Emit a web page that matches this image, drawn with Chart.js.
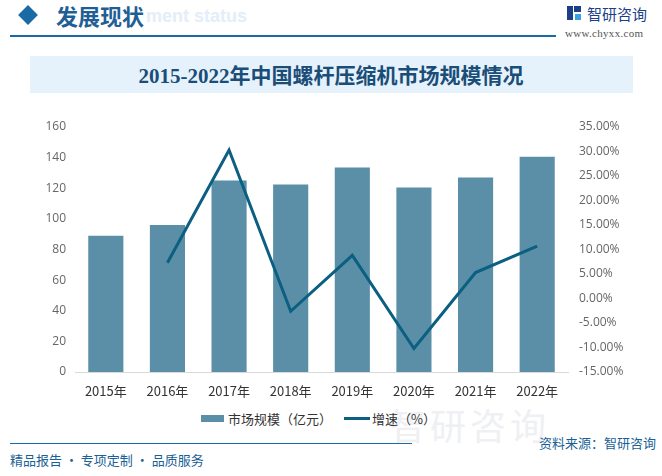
<!DOCTYPE html>
<html><head><meta charset="utf-8">
<script src="https://cdn.jsdelivr.net/npm/chart.js@4"></script>
<style>
body{margin:0;width:662px;height:476px;background:#fff;position:relative;overflow:hidden;font-family:"Noto Sans CJK SC","Microsoft YaHei",sans-serif;}
.abs{position:absolute;white-space:nowrap;}
</style></head><body>
<div class="abs" style="left:21px;top:8px;width:14px;height:14px;background:#1a6aa6;transform:rotate(45deg);"></div>
<div class="abs" style="left:146px;top:6px;font:bold 18px Arial,sans-serif;color:#e3eef8;">ment status</div>
<div class="abs" style="left:56px;top:-1px;font:bold 22px 'Noto Sans CJK SC';color:#1f5f96;">发展现状</div>
<div class="abs" style="left:10px;top:35px;width:546px;height:2px;background:#1a6aa6;"></div>
<div class="abs" style="left:567px;top:6px;width:14px;height:14px;">
 <div style="position:absolute;left:0;top:0;width:6px;height:14px;background:#1c3f87"></div>
 <div style="position:absolute;left:7px;top:0;width:7px;height:6px;background:#1c3f87"></div>
 <div style="position:absolute;left:8px;top:8px;width:6px;height:6px;background:#3aa0e0"></div>
</div>
<div class="abs" style="left:587px;top:3px;font:15px 'Noto Sans CJK SC';color:#1c3f87;">智研咨询</div>
<div class="abs" style="left:565px;top:27px;font:11px 'Liberation Serif',serif;color:#555;letter-spacing:0.3px;">www.chyxx.com</div>
<div class="abs" style="left:30px;top:56px;width:603px;height:37px;background:#e6f2fb;"></div>
<div class="abs" style="left:0;top:59px;width:662px;text-align:center;font:bold 21px 'Liberation Serif','Noto Sans CJK SC',serif;color:#1a4d78;">2015-2022年中国螺杆压缩机市场规模情况</div>
<div class="abs" style="left:390px;top:398px;font:36px 'Noto Sans CJK SC';color:#eef0f3;letter-spacing:4px;">智研咨询</div>
<canvas id="c" class="abs" style="left:0;top:107px;" width="662" height="300"></canvas>
<div class="abs" style="left:201px;top:415px;width:23px;height:7px;background:#5b8fa8;"></div>
<div class="abs" style="left:228px;top:409px;font:13px 'Noto Sans CJK SC';color:#333;">市场规模（亿元）</div>
<div class="abs" style="left:344px;top:417px;width:26px;height:3px;background:#0b5f80;"></div>
<div class="abs" style="left:372px;top:409px;font:13px 'Noto Sans CJK SC';color:#333;">增速（%）</div>
<div class="abs" style="left:10px;top:443px;width:402px;height:1px;background:#1a6aa6;"></div>
<div class="abs" style="right:6px;top:433px;font:13px 'Noto Sans CJK SC';color:#1a5f95;">资料来源：智研咨询</div>
<div class="abs" style="left:10px;top:450px;font:13px 'Noto Sans CJK SC';color:#1a5f95;">精品报告 · 专项定制 · 品质服务</div>
<script>
const categories = ["2015年","2016年","2017年","2018年","2019年","2020年","2021年","2022年"];
const marketSize = [89, 96, 125, 122.5, 133.5, 120.5, 127, 140.5];
const growthRate = [null, 7.3, 30.3, -2.6, 8.8, -10.2, 5.3, 10.7];
const leftTicks = {min:0, max:160, step:20};
const rightTicks = {min:-15, max:35, step:5};

new Chart(document.getElementById('c'), {
  data: {
    labels: categories,
    datasets: [
      {type:'line', label:'增速（%）', data: growthRate, yAxisID:'y1', borderColor:'#0b5f80', borderWidth:3, pointRadius:0, tension:0, order:0},
      {type:'bar', label:'市场规模（亿元）', data: marketSize, yAxisID:'y', backgroundColor:'#5b8fa8', barPercentage:0.57, categoryPercentage:1, order:1}
    ]
  },
  options: {
    responsive:false, animation:false,
    layout:{padding:{top:20,left:0,right:0,bottom:0}},
    plugins:{legend:{display:false}, tooltip:{enabled:false}},
    scales:{
      x:{grid:{display:false, drawTicks:false}, border:{display:true,color:'#d9d9d9'},
         ticks:{color:'#333', font:{size:13, family:"'Noto Sans CJK SC'"}, padding:11},
         afterFit(s){s.height=35;}},
      y:{position:'left', min:leftTicks.min, max:leftTicks.max, grid:{display:false, drawTicks:false}, border:{display:false},
         ticks:{stepSize:leftTicks.step, color:'#666', font:{size:12, family:"'Open Sans','Noto Sans'"}, padding:9},
         afterFit(s){s.width=75;}},
      y1:{position:'right', min:rightTicks.min, max:rightTicks.max, grid:{display:false, drawTicks:false}, border:{display:false},
         ticks:{stepSize:rightTicks.step, color:'#666', font:{size:12, family:"'Open Sans','Noto Sans'"}, padding:11, callback:v=>v.toFixed(2)+'%'},
         afterFit(s){s.width=94;}}
    }
  }
});
</script>
</body></html>
